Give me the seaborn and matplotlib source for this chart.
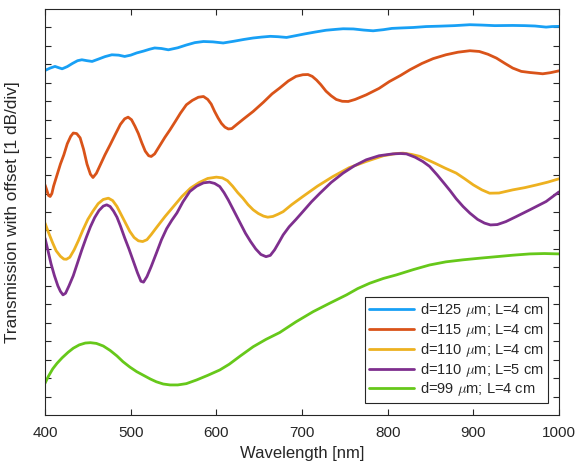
import numpy as np
import pandas as pd
import matplotlib
matplotlib.use("Agg")
import matplotlib.pyplot as plt
import seaborn as sns

# ---- data (offset transmission in dB) ----
wl_blue = [400, 406, 411.7, 416, 420, 426, 432, 438, 443, 449, 455, 462, 470, 478, 486, 493,
           500, 507, 515, 522, 528, 536, 544, 555, 565, 575, 585, 596, 608, 620, 632, 643,
           653, 663, 672, 682, 692, 703, 715, 728, 740, 748, 760, 772, 783, 795, 805, 814,
           830, 845, 860, 878, 896, 910, 925, 946, 960, 972, 985, 992, 1000]
y_blue = [18.67, 18.8, 18.89, 18.82, 18.76, 18.88, 19.05, 19.2, 19.25, 19.2, 19.16, 19.28,
          19.42, 19.52, 19.5, 19.43, 19.5, 19.62, 19.72, 19.82, 19.89, 19.86, 19.79, 19.9,
          20.05, 20.18, 20.24, 20.22, 20.16, 20.25, 20.35, 20.43, 20.48, 20.52, 20.5, 20.46,
          20.55, 20.65, 20.75, 20.85, 20.9, 20.93, 20.92, 20.86, 20.82, 20.88, 20.95, 20.97,
          21.0, 21.05, 21.07, 21.1, 21.15, 21.13, 21.1, 21.11, 21.1, 21.08, 21.02, 21.05, 21.06]

wl_orange = [400, 402, 404, 406, 408, 410, 414, 418, 422, 426, 430, 433, 437, 441, 445, 449,
             453, 456, 460, 465, 470, 476, 482, 488, 493, 497, 501, 505, 509, 513, 517, 521,
             524, 528, 534, 540, 546, 552, 558, 565, 572, 579, 585, 590, 594, 598, 602, 606,
             610, 614, 618, 624, 632, 643, 655, 665, 674, 684, 693, 701, 707, 712, 717, 722,
             728, 734, 740, 747, 754, 762, 775, 790, 802, 815, 826, 840, 853, 868, 882, 896,
             907, 917, 927, 937, 946, 956, 966, 975, 981, 990, 1000]
y_orange = [12.47, 12.2, 11.9, 11.84, 12.0, 12.4, 13.0, 13.6, 14.1, 14.7, 15.1, 15.28, 15.25,
            15.02, 14.4, 13.6, 13.05, 12.87, 13.1, 13.6, 14.1, 14.64, 15.2, 15.75, 16.05, 16.14,
            16.0, 15.65, 15.25, 14.75, 14.3, 14.05, 14.01, 14.15, 14.6, 15.05, 15.46, 15.9, 16.35,
            16.81, 17.05, 17.22, 17.26, 17.1, 16.85, 16.45, 16.1, 15.8, 15.6, 15.5, 15.52, 15.75,
            16.05, 16.45, 16.95, 17.4, 17.72, 18.1, 18.35, 18.44, 18.45, 18.35, 18.15, 17.9, 17.55,
            17.3, 17.1, 17.0, 16.99, 17.1, 17.35, 17.7, 18.07, 18.4, 18.71, 19.05, 19.31, 19.52,
            19.66, 19.74, 19.70, 19.55, 19.34, 19.05, 18.8, 18.62, 18.56, 18.52, 18.49, 18.55, 18.65]

wl_yellow = [400, 404, 409, 413, 418, 422, 425, 429, 434, 439, 444, 450, 456, 462, 468, 474,
             479, 484, 489, 494, 499, 504, 509, 514, 519, 524, 530, 540, 550, 560, 570, 580,
             590, 600, 607, 613, 619, 625, 631, 637, 643, 649, 655, 660, 666, 672, 678, 688,
             701, 718, 736, 755, 775, 795, 810, 818, 828, 838, 847, 855, 867, 880, 890, 900,
             910, 919, 930, 946, 960, 974, 987, 1000]
y_yellow = [10.40, 9.9, 9.32, 8.9, 8.6, 8.45, 8.44, 8.55, 8.95, 9.45, 10.0, 10.6, 11.05, 11.45,
            11.68, 11.75, 11.62, 11.3, 10.85, 10.4, 9.95, 9.62, 9.44, 9.40, 9.5, 9.78, 10.15,
            10.75, 11.3, 11.85, 12.3, 12.6, 12.82, 12.89, 12.85, 12.7, 12.4, 12.05, 11.75, 11.4,
            11.12, 10.92, 10.78, 10.72, 10.76, 10.88, 11.02, 11.4, 11.84, 12.4, 12.92, 13.4,
            13.74, 14.05, 14.17, 14.19, 14.12, 14.01, 13.82, 13.65, 13.38, 13.11, 12.8, 12.47,
            12.2, 12.02, 12.03, 12.2, 12.32, 12.47, 12.62, 12.80]

wl_purple = [400, 403, 407, 411, 415, 418, 421, 424, 428, 433, 438, 443, 448, 453, 458, 463,
             468, 472, 476, 480, 484, 488, 493, 498, 503, 508, 512, 515, 519, 524, 530, 536,
             542, 548, 554, 561, 569, 577, 585, 592, 598, 604, 609, 614, 619, 624, 629, 634,
             640, 646, 652, 658, 663, 668, 673, 678, 685, 693, 701, 711, 721, 734, 748, 761,
             775, 790, 806, 815, 822, 832, 841, 849, 858, 866, 873, 880, 888, 896, 905, 913,
             920, 928, 938, 950, 966, 985, 1000]
y_purple = [9.58, 9.0, 8.2, 7.55, 7.0, 6.7, 6.51, 6.6, 7.0, 7.55, 8.25, 8.95, 9.6, 10.2, 10.7,
            11.08, 11.32, 11.39, 11.3, 11.05, 10.72, 10.25, 9.6, 9.0, 8.35, 7.7, 7.25, 7.2, 7.5,
            8.05, 8.77, 9.5, 10.1, 10.55, 10.95, 11.55, 12.11, 12.4, 12.58, 12.62, 12.55, 12.38,
            12.05, 11.65, 11.2, 10.75, 10.3, 9.85, 9.4, 9.0, 8.7, 8.58, 8.65, 8.95, 9.35, 9.76,
            10.2, 10.6, 11.02, 11.55, 12.02, 12.6, 13.11, 13.5, 13.83, 14.05, 14.15, 14.17, 14.15,
            13.97, 13.74, 13.47, 13.0, 12.55, 12.15, 11.72, 11.3, 10.94, 10.6, 10.4, 10.3, 10.32,
            10.48, 10.75, 11.12, 11.57, 12.09]

wl_green = [400, 404, 409, 414, 420, 427, 433, 440, 447, 453, 460, 468, 476, 484, 491, 499,
            507, 515, 523, 530, 538, 546, 555, 565, 577, 590, 604, 615, 628, 643, 658, 674,
            693, 713, 732, 752, 765, 779, 795, 810, 830, 849, 868, 888, 908, 927, 946, 966,
            983, 1000]
y_green = [1.72, 2.1, 2.5, 2.8, 3.1, 3.4, 3.62, 3.8, 3.9, 3.92, 3.88, 3.74, 3.5, 3.2, 2.89,
           2.6, 2.35, 2.15, 1.95, 1.8, 1.68, 1.63, 1.63, 1.7, 1.9, 2.15, 2.44, 2.75, 3.2, 3.7,
           4.1, 4.47, 5.05, 5.6, 6.05, 6.51, 6.85, 7.14, 7.4, 7.59, 7.88, 8.13, 8.3, 8.41, 8.5,
           8.58, 8.66, 8.73, 8.75, 8.73]

labels = [r"d=125 $\mu$m; L=4 cm", r"d=115 $\mu$m; L=4 cm", r"d=110 $\mu$m; L=4 cm",
          r"d=110 $\mu$m; L=5 cm", r"d=99 $\mu$m; L=4 cm"]
colors = ["#18A0F5", "#D95319", "#EDB120", "#7E2F8E", "#66C81A"]

x_ticks = [400, 500, 600, 700, 800, 900, 1000]

# ---- figure ----
sns.set_theme(style="white")
plt.rcParams["font.family"] = ["Liberation Sans", "DejaVu Sans"]
plt.rcParams["mathtext.fontset"] = "cm"

fig = plt.figure(figsize=(5.83, 4.65), dpi=100)
ax = fig.add_axes([0.0772, 0.1075, 0.8816, 0.8731])

series = [(wl_blue, y_blue), (wl_orange, y_orange), (wl_yellow, y_yellow),
          (wl_purple, y_purple), (wl_green, y_green)]
for (wx, wy), lab, col in zip(series, labels, colors):
    df = pd.DataFrame({"Wavelength": wx, "T": wy})
    sns.lineplot(data=df, x="Wavelength", y="T", ax=ax, color=col, linewidth=2.0,
                 label=lab, sort=False)

ax.set_xlim(400, 1000)
ax.set_ylim(0, 22)
ax.set_xticks(x_ticks)
ax.set_xticklabels([str(t) for t in x_ticks])
ax.set_yticks(np.arange(1, 22))
ax.set_yticklabels([])
ax.tick_params(axis="both", which="both", direction="in", length=4, width=0.8,
               top=True, right=True, left=True, bottom=True, colors="#262626",
               labelsize=11, pad=8)
for sp in ax.spines.values():
    sp.set_color("#262626")
    sp.set_linewidth(0.8)

ax.set_xlabel("Wavelength [nm]", fontsize=12, color="#262626", labelpad=4)
ax.set_ylabel("Transmission with offset [1 dB/div]", fontsize=12.4, color="#262626", labelpad=10)

leg = ax.legend(loc="lower right", bbox_to_anchor=(0.979, 0.030), fontsize=10.5,
                frameon=True, fancybox=False, handlelength=3.1, handletextpad=0.4,
                borderpad=0.3, labelspacing=0.12, borderaxespad=0)
leg.get_frame().set_edgecolor("#262626")
leg.get_frame().set_linewidth(0.8)
leg.get_frame().set_alpha(1)

fig.savefig("out.png", dpi=100)
